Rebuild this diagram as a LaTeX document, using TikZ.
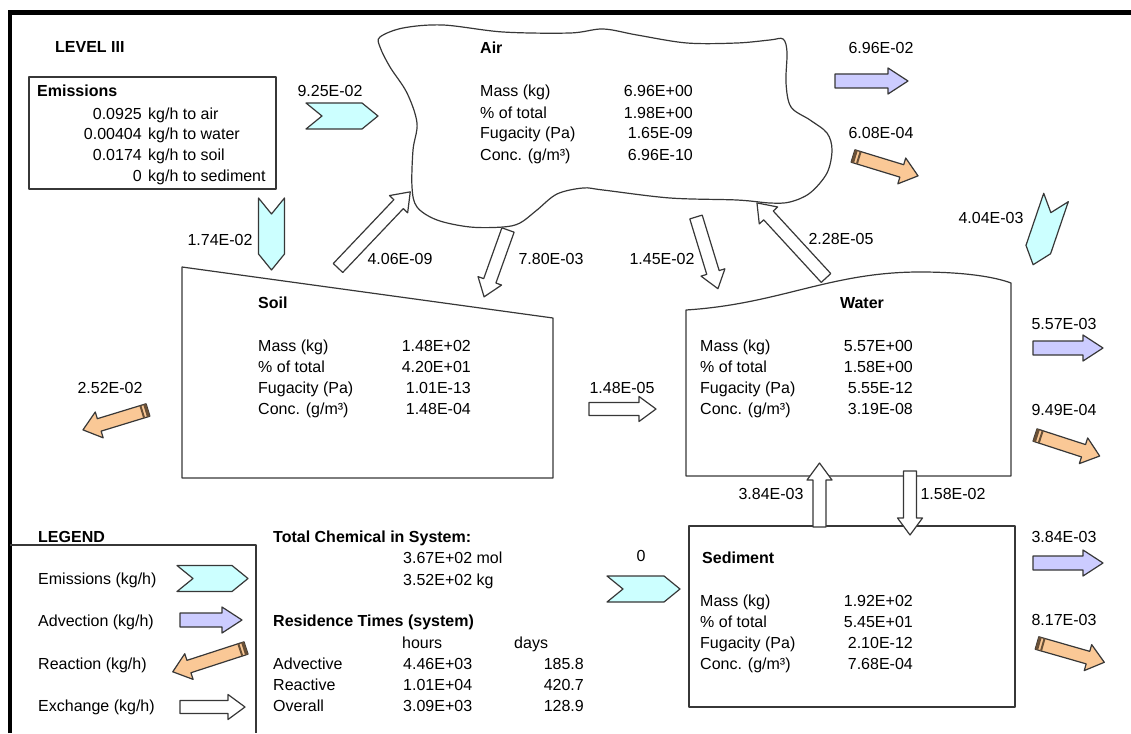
\documentclass[tikz,border=0pt]{standalone}
\usepackage{fontspec}
\setmainfont{Liberation Sans}
\definecolor{linegray}{RGB}{55,55,55}
\definecolor{emisfill}{RGB}{204,255,255}
\definecolor{advfill}{RGB}{204,204,255}
\definecolor{reactfill}{RGB}{250,200,150}
\definecolor{stripebrown}{RGB}{105,80,55}
\tikzset{
  box/.style={draw=linegray,line width=1.2pt,line join=round},
  txt/.style={font=\fontsize{16}{21}\selectfont,inner sep=0pt},
  ttl/.style={font=\fontsize{16}{21}\selectfont\bfseries,inner sep=0pt},
  % flow arrows, drawn from the tail along +x, #1 = length
  pics/emis/.style={code={
    \filldraw[box,fill=emisfill] (0,-13) -- (#1-16,-13) -- (#1,0) -- (#1-16,13) -- (0,13) -- (16,0) -- cycle;}},
  pics/advect/.style={code={
    \filldraw[box,fill=advfill] (0,-7) -- (#1-20,-7) -- (#1-20,-13) -- (#1,0) -- (#1-20,13) -- (#1-20,7) -- (0,7) -- cycle;}},
  pics/react/.style={code={
    \filldraw[box,fill=reactfill] (0,-6.5) -- (#1-17,-6.5) -- (#1-17,-13.5) -- (#1,0) -- (#1-17,13.5) -- (#1-17,6.5) -- (0,6.5) -- cycle;
    \fill[stripebrown] (0,-6.5) rectangle (3,6.5);
    \fill[stripebrown] (5,-6.5) rectangle (7,6.5);}},
  pics/xchg/.style={code={
    \filldraw[box,fill=white] (0,-6.5) -- (#1-17,-6.5) -- (#1-17,-12.5) -- (#1,0) -- (#1-17,12.5) -- (#1-17,6.5) -- (0,6.5) -- cycle;}},
}
% name, label x, value x, first baseline, four values
\newcommand{\compdata}[8]{%
  \node[txt,anchor=base west] (#1-m) at (#2,#4) {Mass (kg)};
  \node[txt,anchor=base west] (#1-p) at (#2,#4+21) {\% of total};
  \node[txt,anchor=base west] (#1-f) at (#2,#4+42) {Fugacity (Pa)};
  \node[txt,anchor=base west] (#1-c) at (#2,#4+63) {Conc. (g/m³)};
  \node[txt,anchor=base east] (#1-mv) at (#3,#4) {#5};
  \node[txt,anchor=base east] (#1-pv) at (#3,#4+21) {#6};
  \node[txt,anchor=base east] (#1-fv) at (#3,#4+42) {#7};
  \node[txt,anchor=base east] (#1-cv) at (#3,#4+63) {#8};
}
\begin{document}
\begin{tikzpicture}[x=1pt,y=-1pt]
  \useasboundingbox (0,0) rectangle (1131,733);
  \draw[line width=4.5pt] (10,733) -- (10,12.5) -- (1131,12.5);

  % emissions
  \node[ttl,anchor=base west] (level) at (55,53) {LEVEL III};
  \draw[box] (29,77) rectangle (276,189);
  \node[ttl,anchor=base west] (emtitle) at (37,96) {Emissions};
  \foreach \v/\t [count=\i from 0] in {0.0925/air,0.00404/water,0.0174/soil,0/sediment} {
    \node[txt,anchor=base east] (emv\i) at (142,119+20.7*\i) {\v};
    \node[txt,anchor=base west] (emt\i) at (148,119+20.7*\i) {kg/h to \t};
  }

  % compartments
  \draw[box] plot[smooth cycle,tension=0.55] coordinates {
    (380,37) (403,28) (443,25) (503,32) (570,33) (603,29) (637,35) (687,43)
    (737,43) (770,40) (783,39) (787,52) (786,83) (791,107) (810,120) (827,133)
    (832,150) (827,173) (810,193) (790,202) (770,203) (737,200) (670,198)
    (603,190) (583,188) (557,194) (537,210) (520,223) (503,227) (470,227)
    (437,220) (417,207) (412,187) (413,150) (417,123) (407,93) (390,67) (380,47)};
  \node[ttl,anchor=base west] (air) at (480,54) {Air};
  \compdata{air}{480}{693}{97}{6.96E+00}{1.98E+00}{1.65E-09}{6.96E-10}

  \draw[box] (182,267) -- (553,318) -- (553,478) -- (182,478) -- cycle;
  \node[ttl,anchor=base west] (soil) at (258,308) {Soil};
  \compdata{soil}{258}{471}{351}{1.48E+02}{4.20E+01}{1.01E-13}{1.48E-04}

  \draw[box] (686,476) -- (686,310) .. controls (780,304) and (830,272) .. (920,272)
    .. controls (965,272) and (995,277) .. (1011,283) -- (1011,476) -- cycle;
  \node[ttl,anchor=base] (water) at (862,308) {Water};
  \compdata{water}{700}{913}{351}{5.57E+00}{1.58E+00}{5.55E-12}{3.19E-08}

  \draw[box] (689,526) rectangle (1015,707);
  \node[ttl,anchor=base west] (sed) at (702,563) {Sediment};
  \compdata{sed}{700}{913}{606}{1.92E+02}{5.45E+01}{2.10E-12}{7.68E-04}

  % emission flows
  \pic at (306,116) {emis=72};
  \node[txt,anchor=base] (e-air) at (330,97) {9.25E-02};
  \pic[rotate=-90] at (271.5,198) {emis=72};
  \node[txt,anchor=base] (e-soil) at (220,245) {1.74E-02};
  \pic[rotate=-108.8] at (1056,197.5) {emis=71};
  \node[txt,anchor=base] (e-water) at (991,223) {4.04E-03};
  \pic at (607,589) {emis=73};
  \node[txt,anchor=base] (e-sed) at (641,561) {0};

  % advection and reaction
  \pic at (835,81) {advect=73};
  \node[txt,anchor=base] (a-air) at (881,54) {6.96E-02};
  \pic[rotate=-17] at (853,156) {react=68};
  \node[txt,anchor=base] (r-air) at (881,139) {6.08E-04};
  \pic[rotate=-163] at (148,410) {react=68};
  \node[txt,anchor=base] (r-soil) at (110,393) {2.52E-02};
  \pic at (1033,348) {advect=70};
  \node[txt,anchor=base] (a-water) at (1064,329) {5.57E-03};
  \pic[rotate=-18] at (1035,435) {react=68};
  \node[txt,anchor=base] (r-water) at (1064,415) {9.49E-04};
  \pic at (1033,563) {advect=70};
  \node[txt,anchor=base] (a-sed) at (1064,542) {3.84E-03};
  \pic[rotate=-16] at (1037,643) {react=70};
  \node[txt,anchor=base] (r-sed) at (1064,625) {8.17E-03};

  % exchange between compartments
  \pic[rotate=46.5] at (338,268) {xchg=105};
  \node[txt,anchor=base] (x-sa) at (400,264) {4.06E-09};
  \pic[rotate=-109.7] at (508,230) {xchg=71};
  \node[txt,anchor=base] (x-as) at (551,264) {7.80E-03};
  \pic[rotate=-73] at (696,217) {xchg=75};
  \node[txt,anchor=base] (x-aw) at (662,264) {1.45E-02};
  \pic[rotate=132.6] at (826,278) {xchg=102};
  \node[txt,anchor=base] (x-wa) at (841,244) {2.28E-05};
  \pic at (589,409) {xchg=67};
  \node[txt,anchor=base] (x-sw) at (622,393) {1.48E-05};
  \pic[rotate=90] at (819.5,527) {xchg=64};
  \node[txt,anchor=base] (x-dw) at (771,499) {3.84E-03};
  \pic[rotate=-90] at (910,471) {xchg=64};
  \node[txt,anchor=base] (x-wd) at (953,499) {1.58E-02};

  % legend
  \node[ttl,anchor=base west] (legend) at (38,542) {LEGEND};
  \draw[box] (10,545) -- (256,545) -- (256,733);
  \node[txt,anchor=base west] (lg-e) at (38,584) {Emissions (kg/h)};
  \pic at (177,578.5) {emis=71};
  \node[txt,anchor=base west] (lg-a) at (38,626) {Advection (kg/h)};
  \pic at (180,620) {advect=62};
  \node[txt,anchor=base west] (lg-r) at (38,669) {Reaction (kg/h)};
  \pic[rotate=-162] at (246,648) {react=77};
  \node[txt,anchor=base west] (lg-x) at (38,711) {Exchange (kg/h)};
  \pic at (180,707) {xchg=65};

  % totals
  \node[ttl,anchor=base west] (total) at (273,542) {Total Chemical in System:};
  \node[txt,anchor=base west] (tot-mol) at (403,563) {3.67E+02 mol};
  \node[txt,anchor=base west] (tot-kg) at (403,585) {3.52E+02 kg};
  \node[ttl,anchor=base west] (restime) at (273,626) {Residence Times (system)};
  \node[txt,anchor=base west] (hours) at (402,648) {hours};
  \node[txt,anchor=base west] (days) at (514,648) {days};
  \foreach \r/\h/\d [count=\i from 0] in {Advective/4.46E+03/185.8,Reactive/1.01E+04/420.7,Overall/3.09E+03/128.9} {
    \node[txt,anchor=base west] (rt\i) at (273,669+21*\i) {\r};
    \node[txt,anchor=base west] (rth\i) at (403,669+21*\i) {\h};
    \node[txt,anchor=base east] (rtd\i) at (584,669+21*\i) {\d};
  }
\end{tikzpicture}
\end{document}
